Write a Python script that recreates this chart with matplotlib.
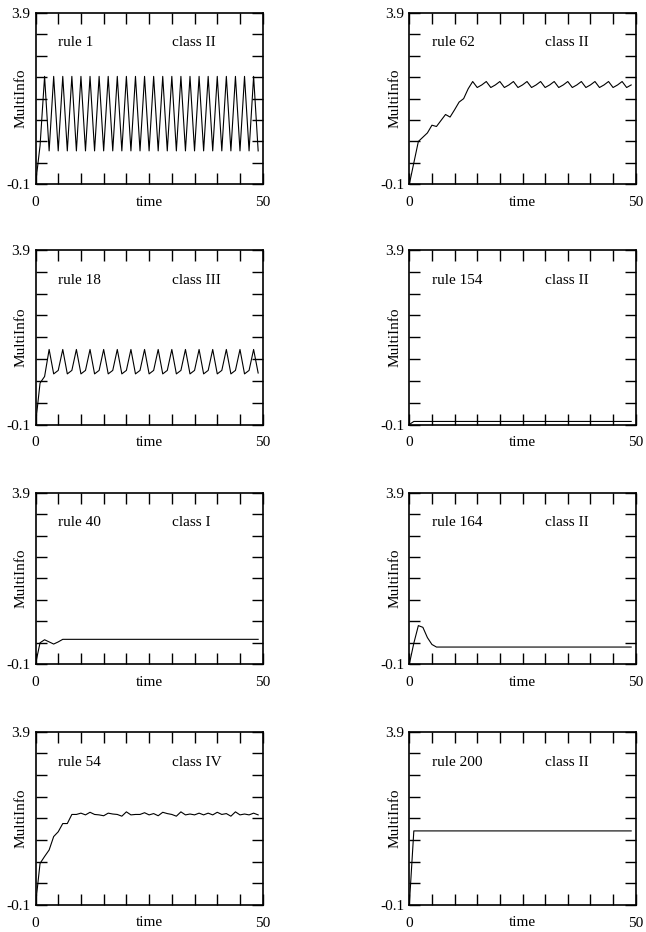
import numpy as np
import matplotlib
matplotlib.use("Agg")
import matplotlib.pyplot as plt

plt.rcParams['font.family'] = ['Liberation Serif', 'DejaVu Serif']
plt.rcParams['font.size'] = 11

time = np.arange(50)

# MultiInfo per rule, t = 0..49
rule1 = [-0.1, 0.8,
         2.42, 0.68, 2.42, 0.68, 2.42, 0.68, 2.42, 0.68, 2.42, 0.68,
         2.42, 0.68, 2.42, 0.68, 2.42, 0.68, 2.42, 0.68, 2.42, 0.68,
         2.42, 0.68, 2.42, 0.68, 2.42, 0.68, 2.42, 0.68, 2.42, 0.68,
         2.42, 0.68, 2.42, 0.68, 2.42, 0.68, 2.42, 0.68, 2.42, 0.68,
         2.42, 0.68, 2.42, 0.68, 2.42, 0.68, 2.42, 0.68]
rule62 = [-0.1, 0.4, 0.9, 1.0, 1.1, 1.28, 1.25, 1.39, 1.53, 1.47,
          1.64, 1.82, 1.90, 2.13, 2.30, 2.16, 2.22, 2.30, 2.16, 2.22,
          2.30, 2.16, 2.22, 2.30, 2.16, 2.22, 2.30, 2.16, 2.22, 2.30,
          2.16, 2.22, 2.30, 2.16, 2.22, 2.30, 2.16, 2.22, 2.30, 2.16,
          2.22, 2.30, 2.16, 2.22, 2.30, 2.16, 2.22, 2.30, 2.16, 2.22]
rule18 = [-0.1, 0.85, 1.0, 1.62, 1.06, 1.14, 1.62, 1.06, 1.14, 1.62,
          1.06, 1.14, 1.62, 1.06, 1.14, 1.62, 1.06, 1.14, 1.62, 1.06,
          1.14, 1.62, 1.06, 1.14, 1.62, 1.06, 1.14, 1.62, 1.06, 1.14,
          1.62, 1.06, 1.14, 1.62, 1.06, 1.14, 1.62, 1.06, 1.14, 1.62,
          1.06, 1.14, 1.62, 1.06, 1.14, 1.62, 1.06, 1.14, 1.62, 1.08]
rule154 = [-0.1] + [-0.03] * 49
rule40 = [-0.1, 0.40, 0.47, 0.42, 0.37, 0.42] + [0.48] * 44
rule164 = [-0.1, 0.39, 0.80, 0.76, 0.52, 0.36] + [0.30] * 44
rule54 = [-0.1, 0.86, 1.02, 1.17, 1.48, 1.59, 1.78, 1.78, 1.99, 1.99,
          2.02, 1.98, 2.04, 1.99, 1.98, 1.96, 2.02, 2.00, 1.99, 1.95,
          2.05, 1.98, 1.99, 1.99, 2.03, 1.98, 2.01, 1.96, 2.04, 2.01,
          1.99, 1.95, 2.05, 1.98, 2.00, 1.98, 2.02, 1.98, 2.02, 1.98,
          2.04, 1.99, 2.01, 1.95, 2.05, 1.98, 2.00, 1.98, 2.02, 1.98]
rule200 = [-0.1] + [1.61] * 49

names = ["rule 1", "rule 62", "rule 18", "rule 154",
         "rule 40", "rule 164", "rule 54", "rule 200"]
classes = ["class II", "class II", "class III", "class II",
           "class I", "class II", "class IV", "class II"]
series = [rule1, rule62, rule18, rule154, rule40, rule164, rule54, rule200]

W, H = 646, 932
fig = plt.figure(figsize=(W / 100, H / 100), dpi=100)

# axes boxes in pixels
cols = [(35.5, 262.7), (409.3, 635.7)]
rows = [(13, 184.3), (250, 424.5), (492.7, 664.2), (731.7, 905)]

for i in range(8):
    r, c = divmod(i, 2)
    x0, x1 = cols[c]
    y0, y1 = rows[r]
    ax = fig.add_axes([x0 / W, 1 - y1 / H, (x1 - x0) / W, (y1 - y0) / H])
    ax.plot(time, series[i], color='black', lw=0.8)
    ax.set_xlim(0, 50)
    ax.set_ylim(-0.1, 3.9)

    ax.set_xticks(np.arange(0, 51, 5))
    ax.set_xticklabels(['0'] + [''] * 9 + ['50'])
    ax.set_yticks(np.linspace(-0.1, 3.9, 9))
    ax.set_yticklabels(['-0.1'] + [''] * 7 + ['3.9'])
    ax.tick_params(direction='in', length=8, width=1.0, top=True, right=True)
    ax.tick_params(axis='x', pad=8.5)
    ax.tick_params(axis='y', pad=3.5)
    for s in ax.spines.values():
        s.set_linewidth(1.2)

    ax.set_xlabel('time')
    ax.xaxis.set_label_coords(0.5, -11.5 / (y1 - y0))
    ax.set_ylabel('MultiInfo')
    ax.yaxis.set_label_coords(-8 / (x1 - x0), 0.5)

    ax.text(5, 3.2, names[i], ha='left', va='center')
    ax.text(30, 3.2, classes[i], ha='left', va='center')

fig.savefig('out.png', dpi=100)
